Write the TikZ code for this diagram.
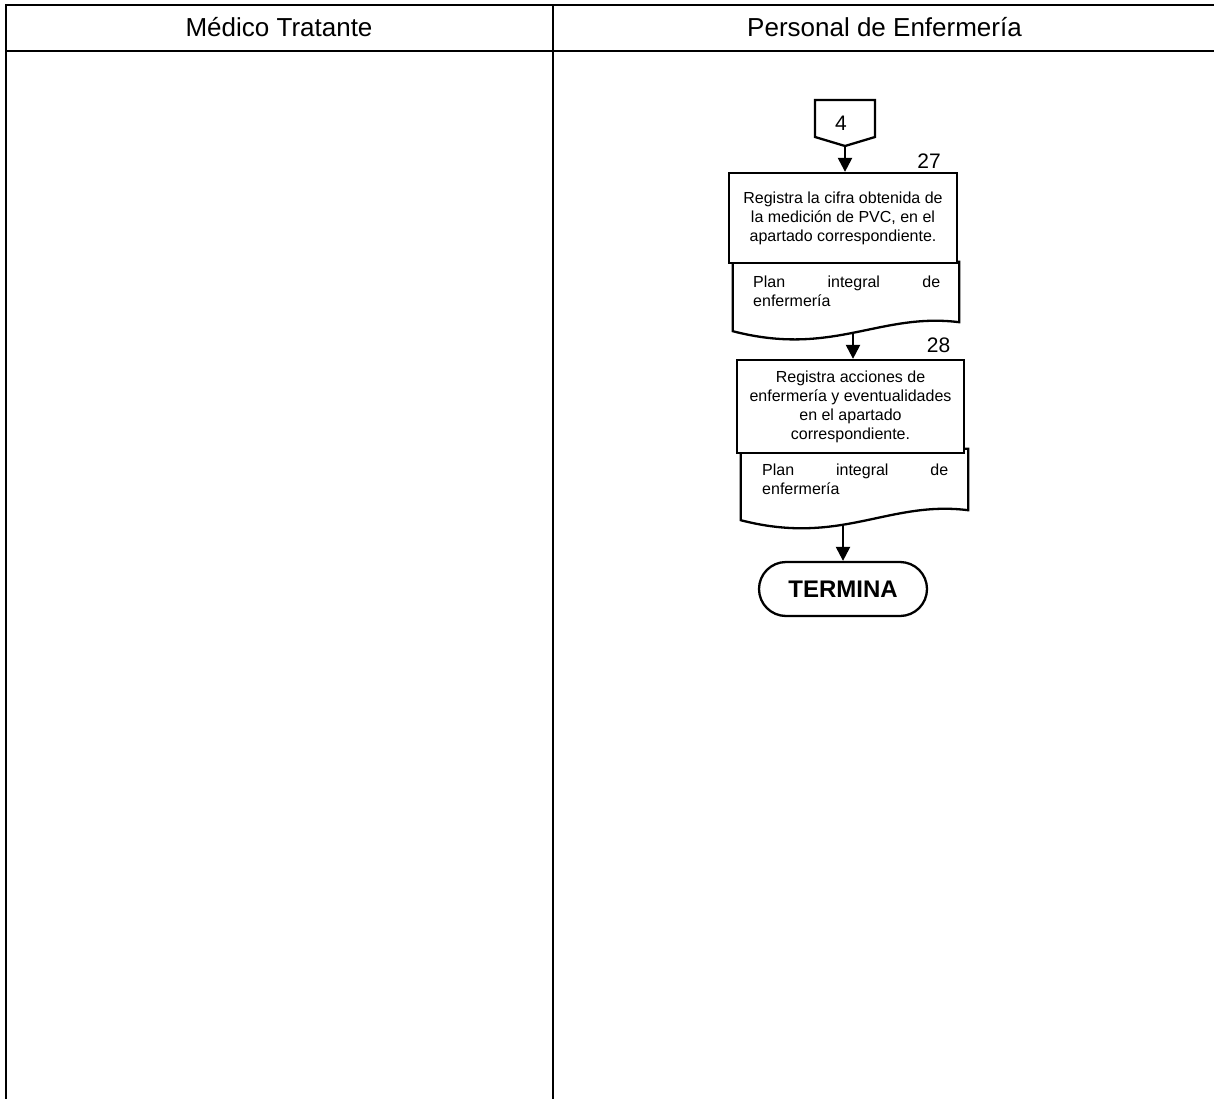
\documentclass[tikz,border=0pt]{standalone}
\usepackage{fontspec}
\setmainfont{Liberation Sans}
\usetikzlibrary{arrows.meta}
\begin{document}
\begin{tikzpicture}[x=1pt,y=-1pt,
  frame/.style={line width=2.3pt},
  conn/.style={line width=2.3pt,-{Triangle[width=14pt,length=14pt]}},
  procbox/.style={draw,line width=2.3pt,fill=white,align=center,inner sep=0pt,
    font=\fontsize{16}{19}\selectfont},
  docarea/.style={inner sep=0pt},
  docline/.style={line width=2.3pt,fill=white},
  doctext/.style={anchor=north west,text width=187pt,align=left,inner sep=0pt,
    font=\fontsize{16}{19}\selectfont},
  steplabel/.style={font=\fontsize{21}{24}\selectfont,inner sep=0pt},
  lanehead/.style={font=\fontsize{26}{30}\selectfont,anchor=base,inner sep=0pt},
  termbox/.style={draw,line width=2.3pt,rounded corners=27pt,minimum width=168pt,
    minimum height=54pt,font=\bfseries\fontsize{24}{28}\selectfont},
]
\useasboundingbox (0,0) rectangle (1214,1099);

% swimlane frame
\draw[frame] (1214,5) -- (5.7,5) -- (5.7,1099);
\draw[frame] (5.7,50.7) -- (1214,50.7);
\draw[frame] (553.3,5) -- (553.3,1099);
\node[lanehead] (h1) at (279,37) {Médico Tratante};
\node[lanehead] (h2) at (884.5,37) {Personal de Enfermería};

% off-page connector 4
\coordinate (c4tip) at (845,146);
\draw[frame] (815,100) -- (875,100) -- (875,137) -- (c4tip) -- (815,137) -- cycle;
\node[steplabel] (c4) at (841,123.5) {4};

% document 1
\node[docarea,minimum width=226pt,minimum height=69pt] (d1) at (846,296.5) {};
\draw[docline] (d1.north west) -- (d1.south west)
  .. controls +(100,26) and +(-80,-10) .. ([yshift=9pt]d1.south east)
  -- (d1.north east) -- cycle;
\node[doctext] (d1t) at (753,276) {Plan\hfill integral\hfill de\\enfermería};
\coordinate (d1w) at (853,332);

% step 27
\node[procbox,minimum width=228pt,minimum height=90pt] (b27) at (843,218)
  {Registra la cifra obtenida de\\la medición de PVC, en el\\apartado correspondiente.};
\node[steplabel] (n27) at (929,161) {27};

% document 2
\node[docarea,minimum width=227pt,minimum height=71pt] (d2) at (854.5,484.5) {};
\draw[docline] (d2.north west) -- (d2.south west)
  .. controls +(100,26) and +(-80,-10) .. ([yshift=10pt]d2.south east)
  -- (d2.north east) -- cycle;
\node[doctext,text width=186pt] (d2t) at (762,464) {Plan\hfill integral\hfill de\\enfermería};
\coordinate (d2w) at (843,524);

% step 28
\node[procbox,minimum width=227pt,minimum height=93pt] (b28) at (850.5,406.5)
  {Registra acciones de\\enfermería y eventualidades\\en el apartado\\correspondiente.};
\node[steplabel] (n28) at (938.5,345) {28};

% end
\node[termbox] (term) at (843,589) {TERMINA};

% connectors
\draw[conn] (c4tip) -- (c4tip |- b27.north);
\draw[conn] (d1w) -- (d1w |- b28.north);
\draw[conn] (d2w) -- (term.north);
\end{tikzpicture}
\end{document}
